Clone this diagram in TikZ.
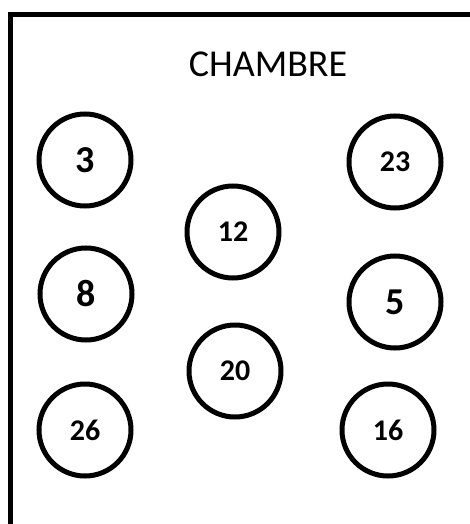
\documentclass[tikz,border=0pt]{standalone}
\usepackage{fontspec}
\setmainfont{Carlito}
\begin{document}
\begin{tikzpicture}[x=1pt,y=-1pt,
  seat/.style={circle,draw=black,line width=5pt,minimum size=92pt,inner sep=0pt},
  bignum/.style={font=\fontsize{38}{42}\selectfont\bfseries},
  smallnum/.style={font=\fontsize{30}{34}\selectfont\bfseries},
  wall/.style={line width=5pt,line cap=rect}]
\useasboundingbox (0,0) rectangle (470,524);
\coordinate (tr) at (475,14.5);
\coordinate (tl) at (10,14.5);
\coordinate (bl) at (10,530);
\draw[wall] (tr) -- (tl) -- (bl);
\node[font=\fontsize{38}{42}\selectfont] (title) at (268,64) {CHAMBRE};
\node[seat,bignum] (s3) at (85,160) {3};
\node[seat,bignum] (s8) at (86,294) {8};
\node[seat,smallnum] (s26) at (85,430) {26};
\node[seat,smallnum] (s12) at (233,232) {12};
\node[seat,smallnum] (s20) at (235,371) {20};
\node[seat,smallnum] (s23) at (395,162) {23};
\node[seat,bignum] (s5) at (395,302) {5};
\node[seat,smallnum] (s16) at (388,430) {16};
\end{tikzpicture}
\end{document}
